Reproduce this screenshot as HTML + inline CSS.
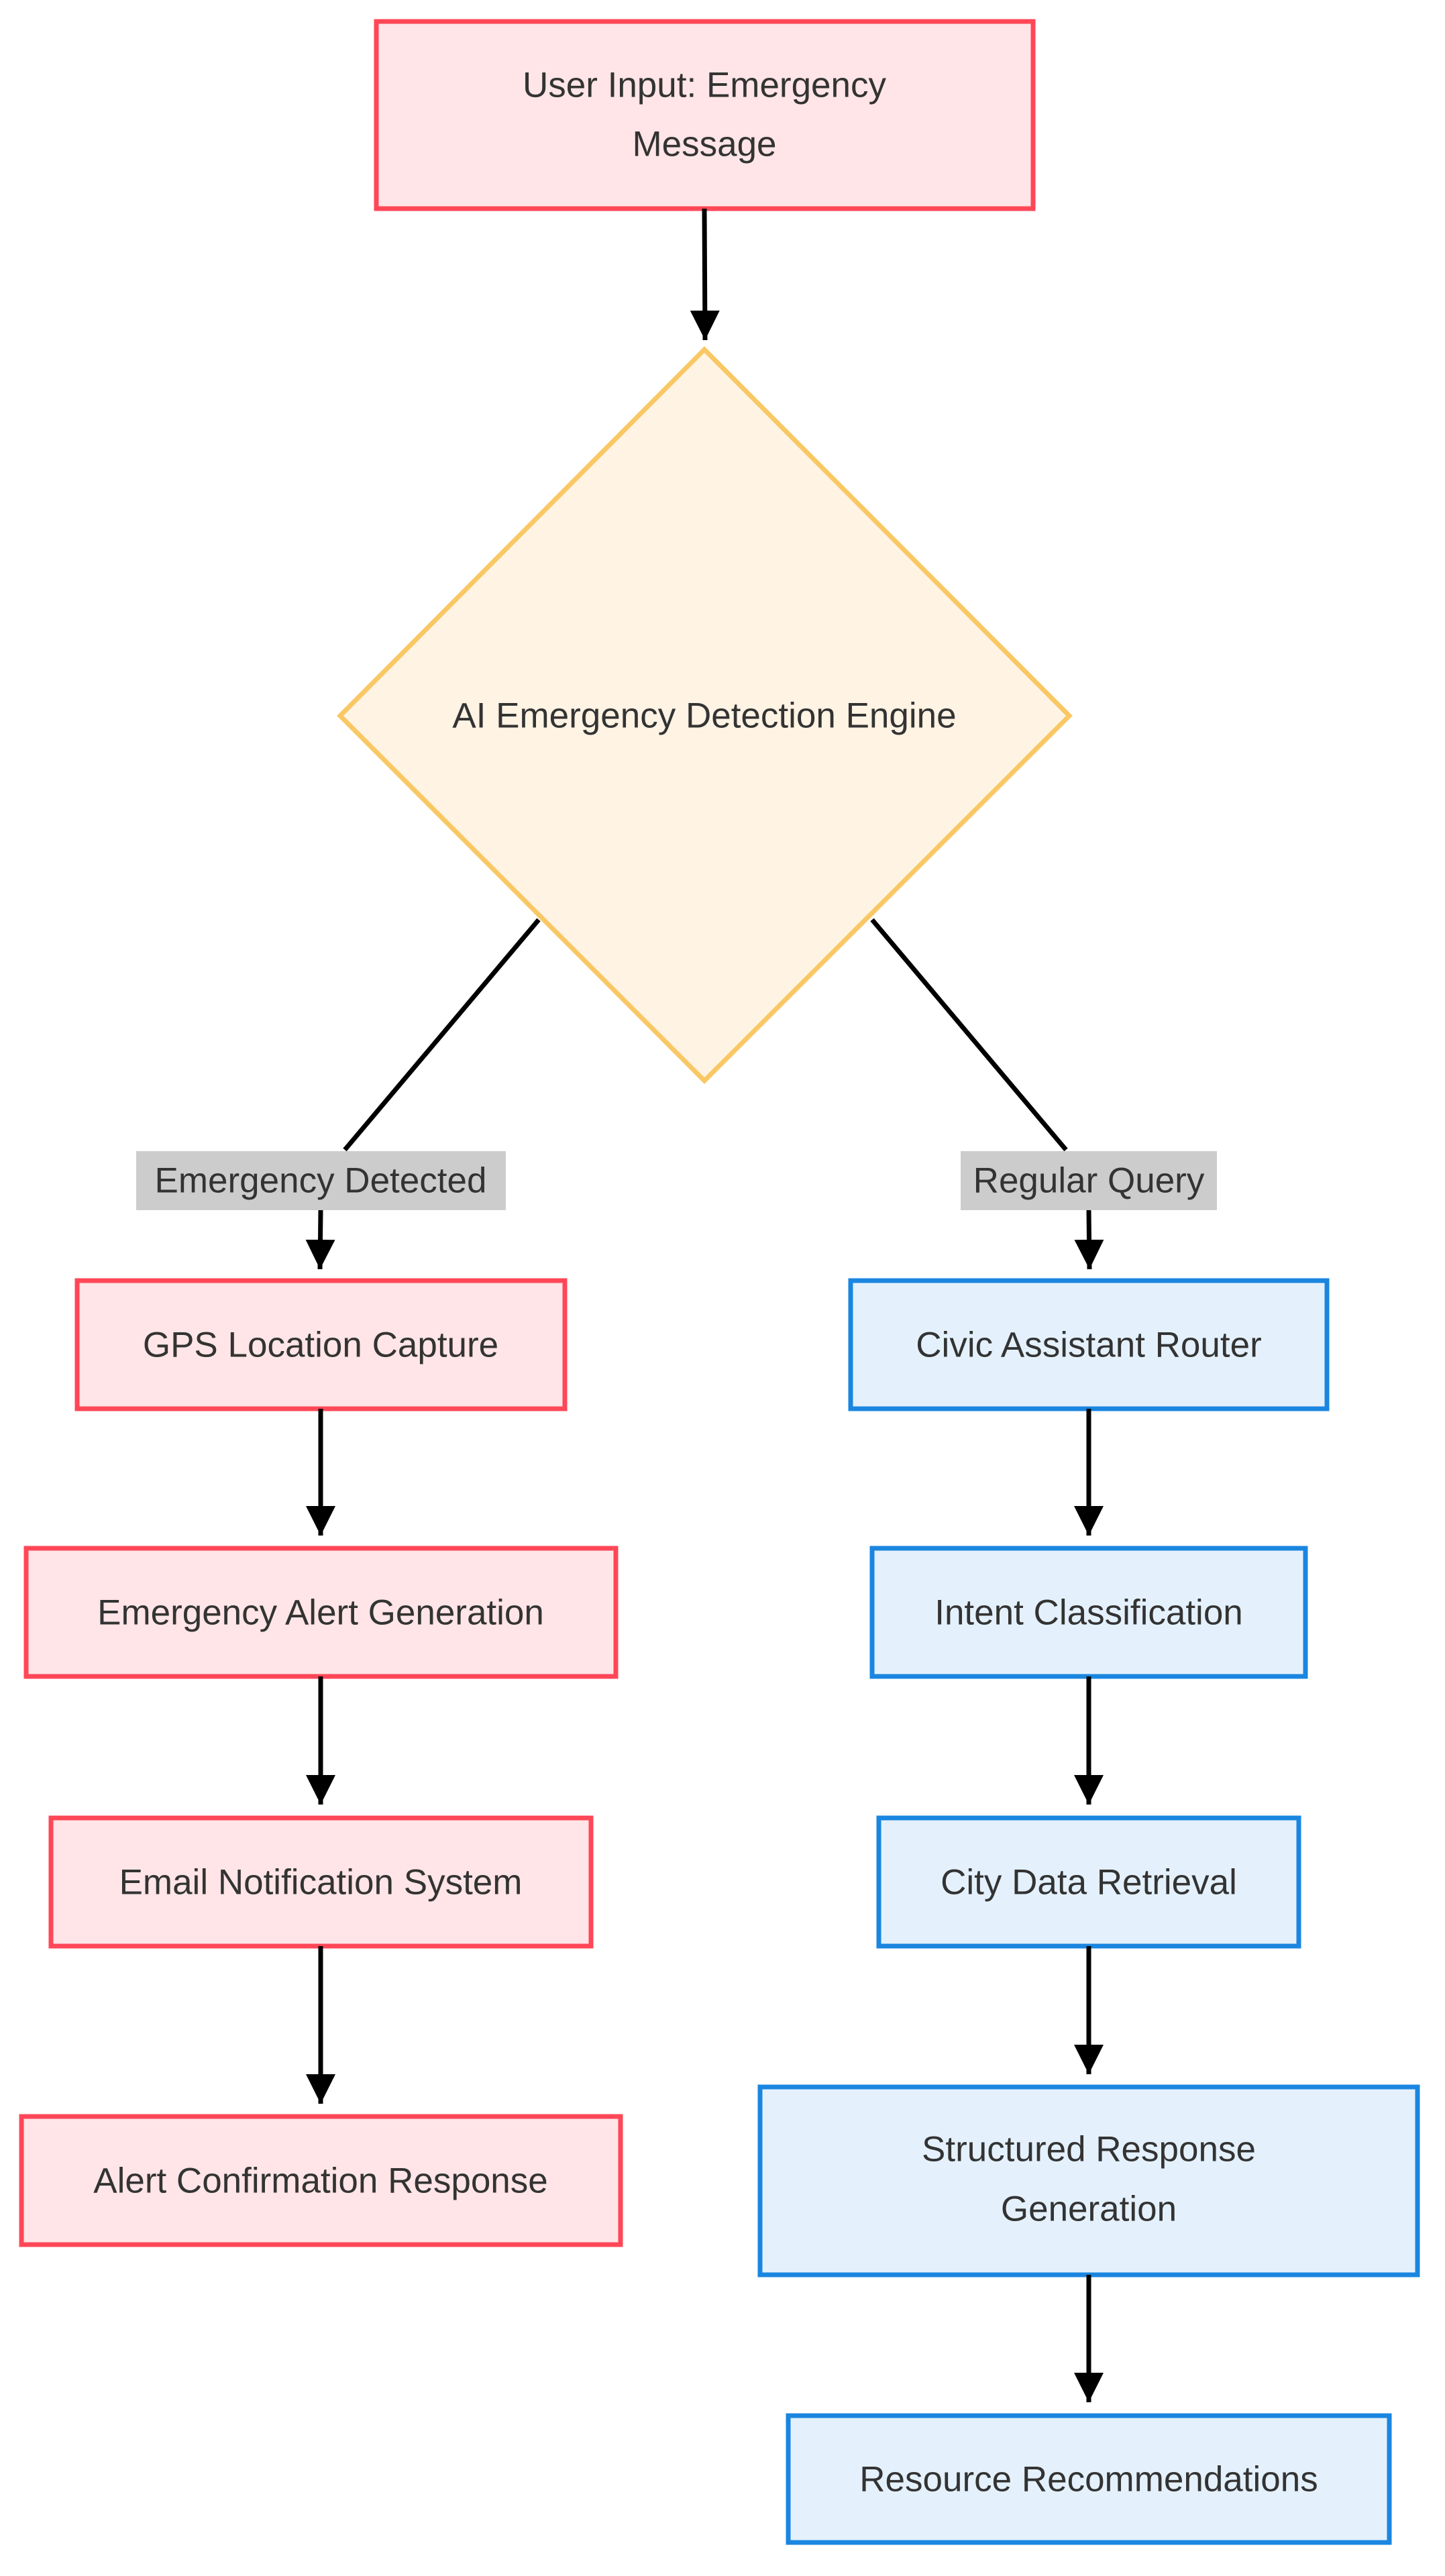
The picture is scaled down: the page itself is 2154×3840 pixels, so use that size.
<!DOCTYPE html>
<html><head><meta charset="utf-8"><style>
html,body{margin:0;padding:0;background:#fff;}
svg{display:block;}
text{font-family:"Liberation Sans",Arial,sans-serif;font-size:53px;fill:#333;text-anchor:middle;dominant-baseline:central;}
.r{fill:#ffe5e7;stroke:#ff4757;stroke-width:7;}
.b{fill:#e4f1fd;stroke:#1a86e0;stroke-width:7;}
.l{stroke:#000;stroke-width:7;fill:none;}
</style></head><body>
<svg width="2154" height="3840" viewBox="0 0 2154 3840" xmlns="http://www.w3.org/2000/svg">
<defs><marker id="a" markerWidth="12" markerHeight="12" refX="10" refY="6" orient="auto" markerUnits="userSpaceOnUse" viewBox="0 0 12 12"><path d="M0,0 L12,6 L0,12 z" fill="#000"/></marker>
<marker id="ah" viewBox="0 0 10 10" refX="10" refY="5" markerWidth="44" markerHeight="44" markerUnits="userSpaceOnUse" orient="auto"><path d="M0,0 L10,5 L0,10 z" fill="#000"/></marker></defs>

<!-- top box -->
<rect class="r" x="561" y="32" width="979" height="279"/>
<text x="1050" y="127">User Input: Emergency</text>
<text x="1050" y="215">Message</text>
<path class="l" d="M1050,311 L1051,507" marker-end="url(#ah)"/>

<!-- diamond -->
<polygon points="1050,521 1594,1067 1050,1611 507,1067" fill="#fff3e4" stroke="#f9c864" stroke-width="7"/>
<text x="1050" y="1067">AI Emergency Detection Engine</text>

<!-- branches -->
<path class="l" d="M803,1371 L514,1714"/>
<path class="l" d="M1300,1371 L1589,1714"/>
<rect x="203" y="1716" width="551" height="88" fill="#cccccc"/>
<text x="478" y="1760">Emergency Detected</text>
<rect x="1432" y="1716" width="382" height="88" fill="#cccccc"/>
<text x="1623" y="1760">Regular Query</text>
<path class="l" d="M478,1804 L477,1892" marker-end="url(#ah)"/>
<path class="l" d="M1623,1804 L1624,1892" marker-end="url(#ah)"/>

<!-- left column -->
<rect class="r" x="115" y="1909" width="727" height="191"/>
<text x="478" y="2005">GPS Location Capture</text>
<path class="l" d="M478,2100 L478,2289" marker-end="url(#ah)"/>
<rect class="r" x="39" y="2308" width="879" height="191"/>
<text x="478" y="2404">Emergency Alert Generation</text>
<path class="l" d="M478,2499 L478,2690" marker-end="url(#ah)"/>
<rect class="r" x="76" y="2710" width="805" height="191"/>
<text x="478" y="2806">Email Notification System</text>
<path class="l" d="M478,2901 L478,3136" marker-end="url(#ah)"/>
<rect class="r" x="32" y="3155" width="893" height="191"/>
<text x="478" y="3251">Alert Confirmation Response</text>

<!-- right column -->
<rect class="b" x="1268" y="1909" width="710" height="191"/>
<text x="1623" y="2005">Civic Assistant Router</text>
<path class="l" d="M1623,2100 L1623,2289" marker-end="url(#ah)"/>
<rect class="b" x="1300" y="2308" width="646" height="191"/>
<text x="1623" y="2404">Intent Classification</text>
<path class="l" d="M1623,2499 L1623,2690" marker-end="url(#ah)"/>
<rect class="b" x="1310" y="2710" width="626" height="191"/>
<text x="1623" y="2806">City Data Retrieval</text>
<path class="l" d="M1623,2901 L1623,3092" marker-end="url(#ah)"/>
<rect class="b" x="1133" y="3111" width="980" height="280"/>
<text x="1623" y="3204">Structured Response</text>
<text x="1623" y="3293">Generation</text>
<path class="l" d="M1623,3391 L1623,3581" marker-end="url(#ah)"/>
<rect class="b" x="1175" y="3601" width="896" height="189"/>
<text x="1623" y="3696">Resource Recommendations</text>
</svg>
</body></html>
